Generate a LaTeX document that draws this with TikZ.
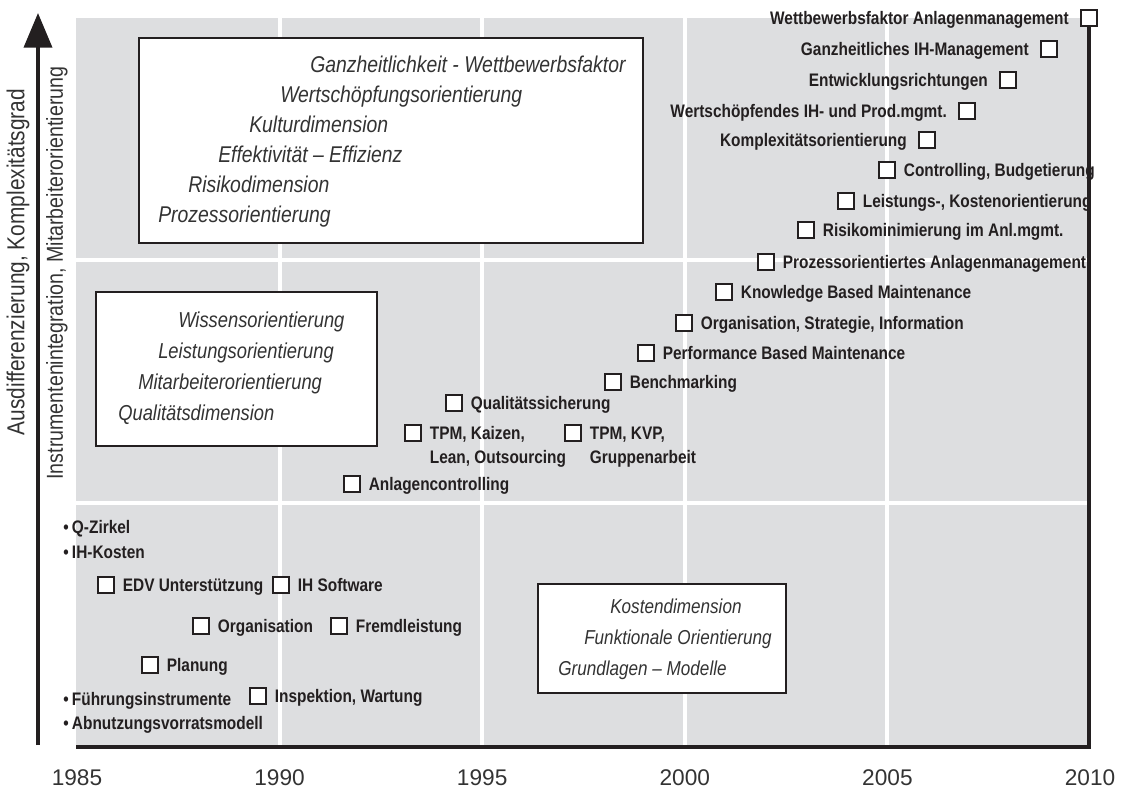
\documentclass[tikz,border=0pt]{standalone}
\usepackage{fontspec}
\setmainfont{Liberation Sans}
\newfontfamily\narrowsans[FakeStretch=0.85]{Liberation Sans}
\usepackage{tikz}
\usetikzlibrary{arrows.meta,positioning,fit}

\definecolor{panelgray}{RGB}{221,222,224}
\definecolor{ink}{RGB}{35,31,32}
\definecolor{softink}{RGB}{51,51,51}

\begin{document}
\begin{tikzpicture}[x=0.75pt,y=-0.75pt,
  sq/.style={draw=ink,fill=white,line width=1.4pt,minimum size=12.5pt,inner sep=0pt},
  lbl/.style={font=\narrowsans\bfseries\fontsize{13.6}{16}\selectfont,text=ink,inner sep=0pt,text height=9.7pt,text depth=0pt},
  framebox/.style={draw=ink,fill=white,line width=1.5pt,inner sep=0pt},
  boxtxt/.style={font=\narrowsans\itshape\fontsize{#1}{#1}\selectfont,text=softink,inner sep=0pt,anchor=base west},
  gridline/.style={white,line width=3pt},
  axisline/.style={ink,line width=2.8pt},
  axislbl/.style={font=\narrowsans\fontsize{#1}{20}\selectfont,text=softink,rotate=90},
  yearlbl/.style={font=\fontsize{17}{20}\selectfont,text=softink}
]
  \useasboundingbox (0,0) rectangle (1122,791);

  % grey field with white grid
  \fill[panelgray] (76,18) rectangle (1089,747);
  \foreach \yr in {1990,1995,2000,2005}
    \draw[gridline] ({77+(\yr-1985)*40.52},18) -- ({77+(\yr-1985)*40.52},747);
  \foreach \h in {260,503}
    \draw[gridline] (76,\h) -- (1089,\h);

  % framed boxes
  \node[framebox,fit={(139,38) (643,243)}] (box-top) {};
  \node[boxtxt=17.1] at (310,73)  {Ganzheitlichkeit - Wettbewerbsfaktor};
  \node[boxtxt=17.1] at (280,103) {Wertschöpfungsorientierung};
  \node[boxtxt=17.1] at (249,133) {Kulturdimension};
  \node[boxtxt=17.1] at (218,163) {Effektivität – Effizienz};
  \node[boxtxt=17.1] at (188,193) {Risikodimension};
  \node[boxtxt=17.1] at (158,223) {Prozessorientierung};

  \node[framebox,fit={(96,292) (377,446)}] (box-mid) {};
  \node[boxtxt=16.2] at (178,328) {Wissensorientierung};
  \node[boxtxt=16.2] at (158,359) {Leistungsorientierung};
  \node[boxtxt=16.2] at (138,390) {Mitarbeiterorientierung};
  \node[boxtxt=16.2] at (118,421) {Qualitätsdimension};

  \node[framebox,fit={(538,584) (786,693)}] (box-low) {};
  \node[boxtxt=15.1] at (610,614) {Kostendimension};
  \node[boxtxt=15.1] at (584,644) {Funktionale Orientierung};
  \node[boxtxt=15.1] at (558,675) {Grundlagen – Modelle};

  % upper staircase
  \node[sq] (sq-a) at (1089,18)  {};
  \node[sq] (sq-b) at (1049,49)  {};
  \node[sq] (sq-c) at (1008,80)  {};
  \node[sq] (sq-d) at (967,111)  {};
  \node[sq] (sq-e) at (927,140)  {};
  \node[sq] (sq-f) at (887,170)  {};
  \node[sq] (sq-g) at (846,201)  {};
  \node[sq] (sq-h) at (806,230)  {};
  \node[sq] (sq-i) at (766,262)  {};
  \node[sq] (sq-j) at (724,292)  {};
  \node[sq] (sq-k) at (684,323)  {};
  \node[sq] (sq-l) at (646,353)  {};
  \node[sq] (sq-m) at (613,382)  {};
  \node[sq] (sq-n) at (454,403)  {};
  \node[sq] (sq-o) at (413,433)  {};
  \node[sq] (sq-p) at (573,433)  {};
  \node[sq] (sq-q) at (352,484)  {};

  \node[lbl,left=8pt of sq-a] (l-a) {Wettbewerbsfaktor Anlagenmanagement};
  \node[lbl,left=8pt of sq-b] (l-b) {Ganzheitliches IH-Management};
  \node[lbl,left=8pt of sq-c] (l-c) {Entwicklungsrichtungen};
  \node[lbl,left=8pt of sq-d] (l-d) {Wertschöpfendes IH- und Prod.mgmt.};
  \node[lbl,left=8pt of sq-e] (l-e) {Komplexitätsorientierung};
  \node[lbl,right=5.5pt of sq-f] (l-f) {Controlling, Budgetierung};
  \node[lbl,right=5.5pt of sq-g] (l-g) {Leistungs-, Kostenorientierung};
  \node[lbl,right=5.5pt of sq-h] (l-h) {Risikominimierung im Anl.mgmt.};
  \node[lbl,right=5.5pt of sq-i] (l-i) {Prozessorientiertes Anlagenmanagement};
  \node[lbl,right=5.5pt of sq-j] (l-j) {Knowledge Based Maintenance};
  \node[lbl,right=5.5pt of sq-k] (l-k) {Organisation, Strategie, Information};
  \node[lbl,right=5.5pt of sq-l] (l-l) {Performance Based Maintenance};
  \node[lbl,right=5.5pt of sq-m] (l-m) {Benchmarking};
  \node[lbl,right=5.5pt of sq-n] (l-n) {Qualitätssicherung};
  \node[lbl,right=5.5pt of sq-o] (l-o) {TPM, Kaizen,};
  \node[lbl,anchor=west] (l-o2) at ([yshift=-18pt]l-o.west) {Lean, Outsourcing};
  \node[lbl,right=5.5pt of sq-p] (l-p) {TPM, KVP,};
  \node[lbl,anchor=west] (l-p2) at ([yshift=-18pt]l-p.west) {Gruppenarbeit};
  \node[lbl,right=5.5pt of sq-q] (l-q) {Anlagencontrolling};

  % early years
  \node[sq] (sq-r) at (106,585) {};
  \node[sq] (sq-s) at (281,585) {};
  \node[sq] (sq-t) at (201,626) {};
  \node[sq] (sq-u) at (339,626) {};
  \node[sq] (sq-v) at (150,665) {};
  \node[sq] (sq-w) at (258,696) {};

  \node[lbl,right=5.5pt of sq-r] (l-r) {EDV Unterstützung};
  \node[lbl,right=5.5pt of sq-s] (l-s) {IH Software};
  \node[lbl,right=5.5pt of sq-t] (l-t) {Organisation};
  \node[lbl,right=5.5pt of sq-u] (l-u) {Fremdleistung};
  \node[lbl,right=5.5pt of sq-v] (l-v) {Planung};
  \node[lbl,right=5.5pt of sq-w] (l-w) {Inspektion, Wartung};

  \node[lbl,anchor=west] (b-qz) at (63,527) {•\hspace{2.5pt}Q-Zirkel};
  \node[lbl,anchor=west] (b-ih) at (63,552) {•\hspace{2.5pt}IH-Kosten};
  \node[lbl,anchor=west] (b-fi) at (63,699) {•\hspace{2.5pt}Führungsinstrumente};
  \node[lbl,anchor=west] (b-av) at (63,723) {•\hspace{2.5pt}Abnutzungsvorratsmodell};

  % axes
  \coordinate (ax-o)   at (38,745);
  \coordinate (ax-top) at (38,13);
  \coordinate (base-l) at (76,747);
  \draw[axisline,-{Triangle[length=26pt,width=21pt]}] (ax-o) -- (ax-top);
  \draw[axisline] (sq-a.south) |- (base-l);

  \node[axislbl=18.4] (ax-a) at (18,262) {Ausdifferenzierung, Komplexitätsgrad};
  \node[axislbl=17.3] (ax-b) at (57,273) {Instrumentenintegration, Mitarbeiterorientierung};

  \foreach \yr in {1985,1990,...,2010}
    \node[yearlbl] (yr-\yr) at ({77+(\yr-1985)*40.52},778) {\yr};
\end{tikzpicture}
\end{document}
